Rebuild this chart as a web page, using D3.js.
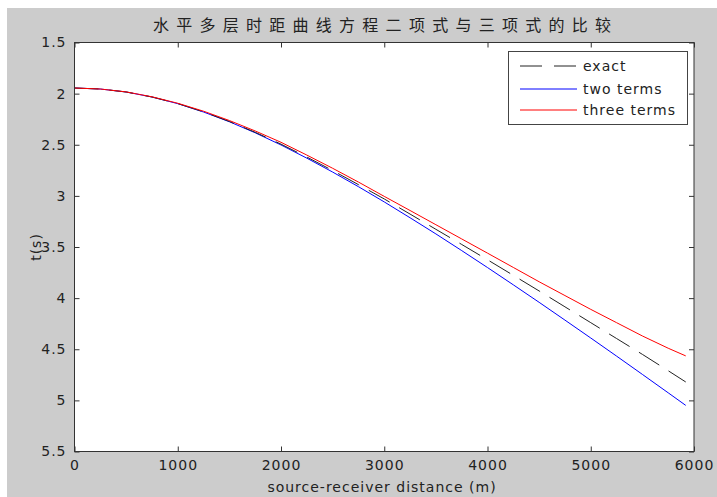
<!DOCTYPE html>
<html><head><meta charset="utf-8">
<script src="https://cdn.jsdelivr.net/npm/d3@7"></script>
<style>body{margin:0;background:#fff}svg{display:block}text{font-family:"DejaVu Sans",Arial,sans-serif;letter-spacing:1px}</style>
</head><body><svg id="c" width="717" height="497"></svg>
<script>
const distances = [0,250,500,750,1000,1250,1500,1750,2000,2250,2500,2750,3000,3250,3500,3750,4000,4250,4500,4750,5000,5250,5500,5750,5920];
const exactT = [1.945,1.955,1.984,2.033,2.097,2.178,2.272,2.378,2.494,2.620,2.752,2.890,3.030,3.178,3.327,3.475,3.625,3.777,3.930,4.085,4.240,4.395,4.550,4.710,4.820];
const twoTermsT = [1.945,1.955,1.984,2.033,2.098,2.180,2.275,2.383,2.502,2.631,2.767,2.910,3.059,3.214,3.372,3.535,3.701,3.870,4.041,4.215,4.390,4.567,4.746,4.926,5.049];
const threeTermsT = [1.945,1.955,1.983,2.031,2.094,2.172,2.263,2.365,2.476,2.601,2.730,2.865,3.005,3.143,3.282,3.421,3.560,3.700,3.840,3.975,4.110,4.240,4.370,4.490,4.565];
const xTicks = [0,1000,2000,3000,4000,5000,6000];
const yTicks = [1.5,2,2.5,3,3.5,4,4.5,5,5.5];
const seriesNames = ["exact","two terms","three terms"];
const titleText = "水平多层时距曲线方程二项式与三项式的比较";
const xLabel = "source-receiver distance (m)";
const yLabel = "t(s)";

const svg = d3.select("#c");
const L=74.5, R=694, T=42.5, B=451.5;
svg.append("rect").attr("x",7).attr("y",8).attr("width",710).attr("height",489).attr("fill","#cccccc");
svg.append("rect").attr("x",L).attr("y",T).attr("width",R-L).attr("height",B-T).attr("fill","#fff");

const x = d3.scaleLinear().domain([0,6000]).range([L,R]);
const y = d3.scaleLinear().domain([1.5,5.5]).range([T,B]);

const axCol="#333";
const gx = svg.append("g").attr("transform",`translate(0,${B})`)
  .call(d3.axisBottom(x).tickValues(xTicks).tickFormat(d3.format("d")).tickSizeInner(-5).tickSizeOuter(0).tickPadding(10));
const gxt = svg.append("g").attr("transform",`translate(0,${T})`)
  .call(d3.axisTop(x).tickValues(xTicks).tickFormat("").tickSizeInner(-5).tickSizeOuter(0));
const gy = svg.append("g").attr("transform",`translate(${L},0)`)
  .call(d3.axisLeft(y).tickValues(yTicks).tickFormat(d3.format("")).tickSizeInner(-5).tickSizeOuter(0).tickPadding(8));
const gyr = svg.append("g").attr("transform",`translate(${R},0)`)
  .call(d3.axisRight(y).tickValues(yTicks).tickFormat("").tickSizeInner(-5).tickSizeOuter(0));
[gx,gxt,gy,gyr].forEach(g=>{
  g.select(".domain").remove();
  g.selectAll("line").attr("stroke",axCol);
  g.selectAll("text").attr("fill","#222").style("font-size","14px");
});
gx.selectAll("text").attr("dy","0.6em");

svg.append("clipPath").attr("id","clip").append("rect").attr("x",L).attr("y",T).attr("width",R-L).attr("height",B-T);
const line = d3.line().x(d=>x(d[0])).y(d=>y(d[1]));
const mk = arr => distances.map((d,i)=>[d,arr[i]]);
const g = svg.append("g").attr("clip-path","url(#clip)");
g.append("path").datum(mk(twoTermsT)).attr("d",line).attr("fill","none").attr("stroke","#0000ff").attr("stroke-width",1);
g.append("path").datum(mk(exactT)).attr("d",line).attr("fill","none").attr("stroke","#222").attr("stroke-width",1).attr("stroke-dasharray","24,11");
g.append("path").datum(mk(threeTermsT)).attr("d",line).attr("fill","none").attr("stroke","#ff0000").attr("stroke-width",1);

svg.append("rect").attr("x",L).attr("y",T).attr("width",R-L).attr("height",B-T).attr("fill","none").attr("stroke",axCol).attr("stroke-width",1);

svg.append("text").attr("x",382).attr("y",31).attr("text-anchor","middle").attr("fill","#222")
  .style("font-family","'Noto Sans CJK SC',sans-serif").style("font-size","16px").style("letter-spacing","0px")
  .attr("textLength",458).attr("lengthAdjust","spacing").text(titleText);
svg.append("text").attr("x",382).attr("y",492).attr("text-anchor","middle").attr("fill","#222").style("font-size","14px").text(xLabel);
svg.append("text").attr("transform","translate(41,247) rotate(-90)").attr("text-anchor","middle").attr("fill","#222").style("font-size","14px").text(yLabel);

const lg = svg.append("g");
lg.append("rect").attr("x",508.5).attr("y",51.5).attr("width",179).attr("height",73).attr("fill","#fff").attr("stroke","#444");
const cols=["#222","#0000ff","#ff0000"], dashes=["22,12",null,null], rowsY=[66,89,110];
seriesNames.forEach((n,i)=>{
  lg.append("line").attr("x1",520).attr("x2",577).attr("y1",rowsY[i]).attr("y2",rowsY[i]).attr("stroke",cols[i]).attr("stroke-width",1).attr("stroke-dasharray",dashes[i]);
  lg.append("text").attr("x",583).attr("y",rowsY[i]).attr("dy","0.35em").attr("fill","#222").style("font-size","14px").text(n);
});
</script></body></html>
